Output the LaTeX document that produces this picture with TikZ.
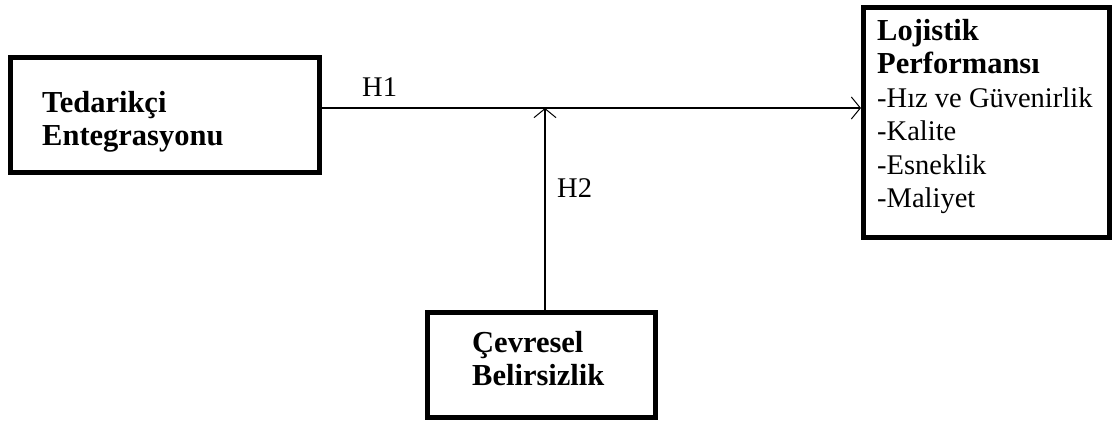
\documentclass[tikz,border=0pt]{standalone}
\usepackage{fontspec}
\setmainfont{Liberation Serif}
\usetikzlibrary{arrows.meta}
\begin{document}
\begin{tikzpicture}[x=1pt,y=-1pt,
  box/.style={draw, line width=5pt, rectangle, inner sep=0pt},
  lbl/.style={anchor=base west, inner sep=0pt, font=\fontsize{28.5}{33}\selectfont},
  blbl/.style={lbl, font=\fontsize{30.5}{33}\selectfont\bfseries},
  conn/.style={line width=1.3pt},
  arr/.style={conn, -{Straight Barb[length=9pt,width=22pt,line width=1pt]}}]
\useasboundingbox (0,0) rectangle (1115,421);
% boxes
\node[box, minimum width=309pt, minimum height=115pt] (lb) at (165,115) {};
\node[box, minimum width=246pt, minimum height=230pt] (rb) at (986.5,122.5) {};
\node[box, minimum width=228pt, minimum height=105pt] (cb) at (541.5,365) {};
% texts
\node[blbl] (t1) at (42,112) {Tedarikçi};
\node[blbl] (t2) at (42,145) {Entegrasyonu};
\node[blbl] (r1) at (877,40) {Lojistik};
\node[blbl] (r2) at (877,73.5) {Performansı};
\node[lbl] (r3) at (877,107) {-Hız ve Güvenirlik};
\node[lbl] (r4) at (877,140.5) {-Kalite};
\node[lbl] (r5) at (877,174) {-Esneklik};
\node[lbl] (r6) at (877,207.5) {-Maliyet};
\node[blbl] (c1) at (472,352) {Çevresel};
\node[blbl] (c2) at (472,385) {Belirsizlik};
\node[lbl] (h1) at (362,96) {H1};
\node[lbl] (h2) at (557,197) {H2};
% connectors
\coordinate (j) at (545,108);
\draw[arr] (lb.east |- j) -- (rb.west |- j);
\draw[arr] (cb.north -| j) -- (j);
\end{tikzpicture}
\end{document}
